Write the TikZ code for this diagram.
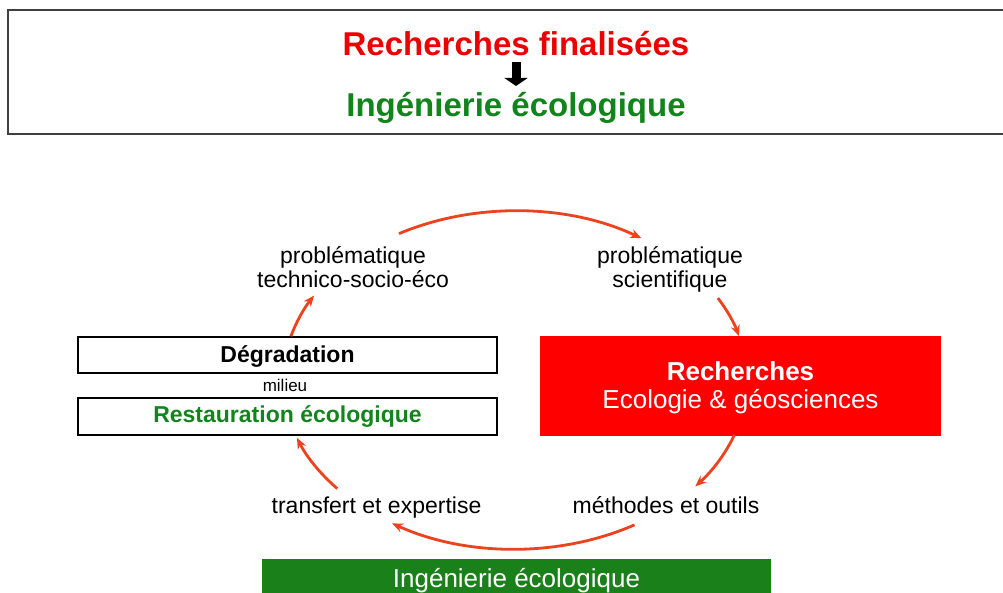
\documentclass[tikz,border=0pt]{standalone}
\usepackage{fontspec}
\setmainfont{Liberation Sans}
\usetikzlibrary{arrows.meta,calc}
\definecolor{arcol}{RGB}{236,66,30}
\definecolor{titred}{RGB}{236,0,0}
\definecolor{titgreen}{RGB}{18,132,28}
\definecolor{boxgreen}{RGB}{26,128,26}
\definecolor{boxred}{RGB}{255,0,0}
\begin{document}
\begin{tikzpicture}[x=1pt,y=-1pt,
  cyc/.style={draw=arcol,line width=2.8pt,-{Stealth[length=11pt,width=9pt]}},
  lab/.style={font=\fontsize{23}{27}\selectfont,inner sep=0pt,anchor=base},
  wbox/.style={draw=black,line width=2pt,fill=white,inner sep=0pt,
    font=\fontsize{23}{27}\selectfont\bfseries},
  title/.style={font=\fontsize{33}{37}\selectfont\bfseries,inner sep=0pt,anchor=base}
]
\useasboundingbox (0,0) rectangle (1003,593);
\fill[white] (0,0) rectangle (1003,593);

% top box
\node[draw=black!75,line width=2.2pt,minimum width=1010pt,minimum height=124pt,inner sep=0pt] (topbox) at (513,72) {};
\node[title,text=titred] (t1) at (516,56) {Recherches finalisées};
\node[title,text=titgreen] (t2) at (516,117) {Ingénierie écologique};
\coordinate (ta) at (516,62);
\coordinate (tb) at (516,86);
\draw[line width=9pt,-{Triangle[length=8pt,width=23pt]}] (ta) -- (tb);

% left boxes
\node[wbox,minimum width=419pt,minimum height=36pt,text height=16pt,text depth=2pt] (degr) at (287.5,355) {Dégradation};
\node[lab,font=\fontsize{17}{20}\selectfont] (mil) at (285,391) {milieu};
\node[wbox,minimum width=419pt,minimum height=37pt,text height=16pt,text depth=4pt,text=titgreen] (rest) at (287.5,416.5) {Restauration écologique};

% red box
\node[fill=boxred,minimum width=401pt,minimum height=100pt,inner sep=0pt] (rech) at (740.5,386) {};
\node[lab,font=\fontsize{26}{30}\selectfont\bfseries,text=white] (rech1) at (740.5,380) {Recherches};
\node[lab,font=\fontsize{26}{30}\selectfont,text=white] (rech2) at (740.5,408) {Ecologie \& géosciences};

% green box
\node[fill=boxgreen,minimum width=509pt,minimum height=43pt,inner sep=0pt,text height=17pt,text depth=4pt,
  text=white,font=\fontsize{26}{30}\selectfont] (inge) at (516.5,580.5) {Ingénierie écologique};

% labels
\node[lab] (l1a) at (353,264) {problématique};
\node[lab] (l1b) at (353,288) {technico-socio-éco};
\node[lab] (l2a) at (670,264) {problématique};
\node[lab] (l2b) at (670,288) {scientifique};
\node[lab] (l3) at (376.5,513) {transfert et expertise};
\node[lab] (l4) at (666,513) {méthodes et outils};

% cycle arrows on an ellipse
\coordinate (C) at (515,380);
\coordinate (p1) at ($(C)+(-120:232 and 169)$);
\coordinate (p2) at ($(C)+(-29:232 and 169)$);
\coordinate (p4) at ($(C)+(19:232 and 169)$);
\coordinate (p5) at ($(C)+(59:232 and 169)$);
\coordinate (p6) at ($(C)+(140:232 and 169)$);
\coordinate (p3) at ($(C)+(195:232 and 169)$);
\draw[cyc] (p1) arc[start angle=-120,end angle=-57,x radius=232,y radius=169];
\draw[cyc] (p2) arc[start angle=-29,end angle=-15,x radius=232,y radius=169];
\draw[cyc] (p4) arc[start angle=19,end angle=39,x radius=232,y radius=169];
\draw[cyc] (p5) arc[start angle=59,end angle=122,x radius=232,y radius=169];
\draw[cyc] (p6) arc[start angle=140,end angle=160,x radius=232,y radius=169];
\draw[cyc] (p3) arc[start angle=195,end angle=210,x radius=232,y radius=169];
\end{tikzpicture}
\end{document}
